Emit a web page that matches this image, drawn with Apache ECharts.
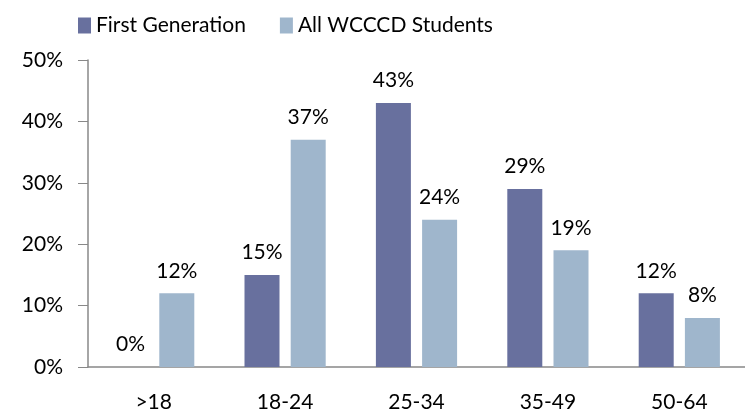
<!DOCTYPE html>
<html>
<head>
<meta charset="utf-8">
<script src="https://cdn.jsdelivr.net/npm/echarts@6/dist/echarts.min.js"></script>
<style>
  html, body { margin: 0; padding: 0; background: #fff; }
</style>
</head>
<body>
<div id="main" style="width:745px;height:415px;"></div>
<script>
// age groups
const categories = ['>18', '18-24', '25-34', '35-49', '50-64'];
const firstGen = [0, 15, 43, 29, 12];
const allStudents = [12, 37, 24, 19, 8];
const seriesNames = ['First Generation', 'All WCCCD Students'];

const font = 'Lato, "Open Sans", sans-serif';

var myChart = echarts.init(document.getElementById('main'));
myChart.setOption({
  animation: false,
  legend: {
    top: 10,
    left: 73,
    itemWidth: 13,
    itemHeight: 16,
    itemGap: 34,
    icon: 'rect',
    textStyle: { fontFamily: font, fontSize: 21, color: '#000' },
    data: seriesNames
  },
  grid: {
    top: 60,
    left: 88,
    right: 0,
    bottom: 48
  },
  xAxis: {
    type: 'category',
    data: categories,
    axisLine: { lineStyle: { color: '#888', width: 1.5 } },
    axisTick: { show: false },
    axisLabel: { fontFamily: font, fontSize: 21, color: '#000', margin: 25 }
  },
  yAxis: {
    type: 'value',
    min: 0,
    max: 50,
    interval: 10,
    splitLine: { show: false },
    axisLine: { show: true, lineStyle: { color: '#888', width: 1.5 } },
    axisTick: { show: true, length: 10, lineStyle: { color: '#888' } },
    axisLabel: { fontFamily: font, fontSize: 21, color: '#000', margin: 25, formatter: '{value}%' }
  },
  series: [{
    name: seriesNames[0],
    type: 'bar',
    data: firstGen,
    barWidth: 35,
    barGap: '32%',
    itemStyle: { color: '#68709e' },
    label: { show: true, position: 'top', distance: 12, formatter: '{c}%', fontFamily: font, fontSize: 21, color: '#000' }
  }, {
    name: seriesNames[1],
    type: 'bar',
    data: allStudents,
    barWidth: 35,
    itemStyle: { color: '#9fb6cc' },
    label: { show: true, position: 'top', distance: 12, formatter: '{c}%', fontFamily: font, fontSize: 21, color: '#000' }
  }]
});
</script>
</body>
</html>
